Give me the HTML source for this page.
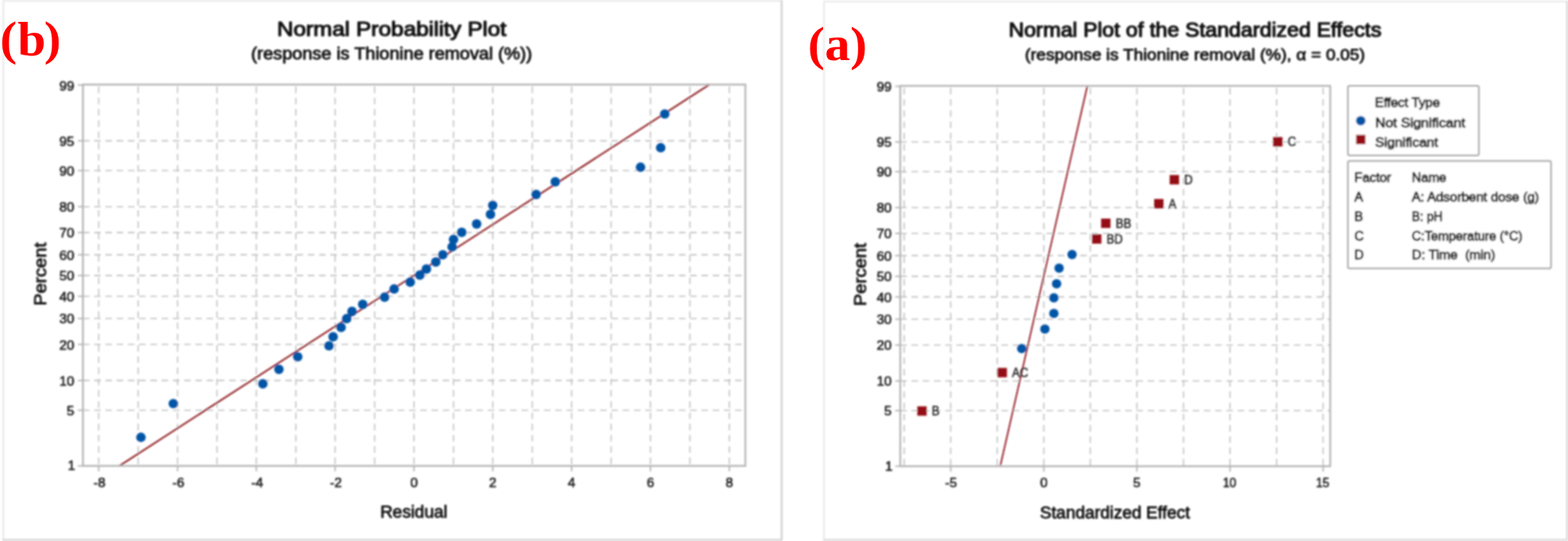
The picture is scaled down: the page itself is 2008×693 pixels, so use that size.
<!DOCTYPE html>
<html lang="en">
<head>
<meta charset="utf-8">
<title>Normal probability plots</title>
<style>
html,body{margin:0;padding:0;background:#fff;}
body{width:2008px;height:693px;overflow:hidden;position:relative;}
svg{display:block;position:absolute;left:0;top:0;}
text{font-family:"Liberation Sans", sans-serif;fill:#0e0e0e;stroke:#0e0e0e;stroke-width:0.85px;stroke-linejoin:round;}
.dl{fill:#2a2a2a;stroke:#2a2a2a;stroke-width:0.6px;}
.st{stroke-width:0.85px;}
.tk{stroke-width:0.6px;fill:#1a1a1a;stroke:#1a1a1a;}
.lg{stroke-width:1.0px;}
.tt{stroke-width:1.15px;fill:#0a0a0a;stroke:#0a0a0a;}
.lbl{font-family:"Liberation Serif",serif;font-weight:bold;fill:#ff0000;stroke:none;}
</style>
</head>
<body>
<svg width="2008" height="693" viewBox="0 0 2008 693">
<defs><filter id="soft" x="0" y="0" width="2008" height="693" filterUnits="userSpaceOnUse"><feGaussianBlur stdDeviation="0.8"/></filter></defs>
<rect x="0" y="0" width="2008" height="693" fill="#ffffff"/>
<g filter="url(#soft)">
<g fill="none" stroke-width="2">
<path d="M4.3 692 V1 H1001" stroke="#e6e6e6"/>
<path d="M1001 0 V691.6 H3.3" stroke="#cfcfcf" stroke-width="2.3"/>
<path d="M1055.2 692 V1.9 H2007" stroke="#e8e8e8"/>
<path d="M2006.9 1 V691.6 H1054.2" stroke="#d6d6d6" stroke-width="2.3"/>
</g>
<g stroke="#c0c0c0" stroke-width="1.6" stroke-dasharray="8.4 6" fill="none">
<line x1="126.4" y1="110.8" x2="126.4" y2="596.8"/>
<line x1="176.9" y1="110.8" x2="176.9" y2="596.8"/>
<line x1="227.4" y1="110.8" x2="227.4" y2="596.8"/>
<line x1="277.8" y1="110.8" x2="277.8" y2="596.8"/>
<line x1="328.3" y1="110.8" x2="328.3" y2="596.8"/>
<line x1="378.8" y1="110.8" x2="378.8" y2="596.8"/>
<line x1="429.2" y1="110.8" x2="429.2" y2="596.8"/>
<line x1="479.7" y1="110.8" x2="479.7" y2="596.8"/>
<line x1="530.2" y1="110.8" x2="530.2" y2="596.8"/>
<line x1="580.7" y1="110.8" x2="580.7" y2="596.8"/>
<line x1="631.1" y1="110.8" x2="631.1" y2="596.8"/>
<line x1="681.6" y1="110.8" x2="681.6" y2="596.8"/>
<line x1="732.1" y1="110.8" x2="732.1" y2="596.8"/>
<line x1="782.6" y1="110.8" x2="782.6" y2="596.8"/>
<line x1="833.0" y1="110.8" x2="833.0" y2="596.8"/>
<line x1="883.5" y1="110.8" x2="883.5" y2="596.8"/>
<line x1="934.0" y1="110.8" x2="934.0" y2="596.8"/>
<line x1="106.2" y1="525.5" x2="954.5" y2="525.5"/>
<line x1="106.2" y1="487.4" x2="954.5" y2="487.4"/>
<line x1="106.2" y1="441.2" x2="954.5" y2="441.2"/>
<line x1="106.2" y1="408.0" x2="954.5" y2="408.0"/>
<line x1="106.2" y1="379.5" x2="954.5" y2="379.5"/>
<line x1="106.2" y1="352.9" x2="954.5" y2="352.9"/>
<line x1="106.2" y1="326.4" x2="954.5" y2="326.4"/>
<line x1="106.2" y1="297.9" x2="954.5" y2="297.9"/>
<line x1="106.2" y1="264.7" x2="954.5" y2="264.7"/>
<line x1="106.2" y1="218.5" x2="954.5" y2="218.5"/>
<line x1="106.2" y1="180.4" x2="954.5" y2="180.4"/>
</g>
<line x1="152.8" y1="596.8" x2="908.4" y2="108.3" stroke="#8a1019" stroke-width="2"/>
<g stroke="#b4b4b4" fill="none">
<rect x="106.2" y="108.3" width="848.3" height="488.5" stroke-width="2.3"/>
<g stroke-width="1.8">
<line x1="99.7" y1="596.8" x2="106.2" y2="596.8"/>
<line x1="99.7" y1="525.5" x2="106.2" y2="525.5"/>
<line x1="99.7" y1="487.4" x2="106.2" y2="487.4"/>
<line x1="99.7" y1="441.2" x2="106.2" y2="441.2"/>
<line x1="99.7" y1="408.0" x2="106.2" y2="408.0"/>
<line x1="99.7" y1="379.5" x2="106.2" y2="379.5"/>
<line x1="99.7" y1="352.9" x2="106.2" y2="352.9"/>
<line x1="99.7" y1="326.4" x2="106.2" y2="326.4"/>
<line x1="99.7" y1="297.9" x2="106.2" y2="297.9"/>
<line x1="99.7" y1="264.7" x2="106.2" y2="264.7"/>
<line x1="99.7" y1="218.5" x2="106.2" y2="218.5"/>
<line x1="99.7" y1="180.4" x2="106.2" y2="180.4"/>
<line x1="99.7" y1="108.9" x2="106.2" y2="108.9"/>
<line x1="126.4" y1="596.8" x2="126.4" y2="603.8"/>
<line x1="227.4" y1="596.8" x2="227.4" y2="603.8"/>
<line x1="328.3" y1="596.8" x2="328.3" y2="603.8"/>
<line x1="429.2" y1="596.8" x2="429.2" y2="603.8"/>
<line x1="530.2" y1="596.8" x2="530.2" y2="603.8"/>
<line x1="631.1" y1="596.8" x2="631.1" y2="603.8"/>
<line x1="732.1" y1="596.8" x2="732.1" y2="603.8"/>
<line x1="833.0" y1="596.8" x2="833.0" y2="603.8"/>
<line x1="934.0" y1="596.8" x2="934.0" y2="603.8"/>
</g></g>
<g fill="#0054a6">
<circle cx="180.5" cy="560.2" r="6.1"/>
<circle cx="221.9" cy="517.0" r="6.1"/>
<circle cx="336.6" cy="491.6" r="6.1"/>
<circle cx="357.2" cy="473.1" r="6.1"/>
<circle cx="381.3" cy="457.0" r="6.1"/>
<circle cx="421.3" cy="443.0" r="6.1"/>
<circle cx="426.6" cy="431.4" r="6.1"/>
<circle cx="436.8" cy="419.4" r="6.1"/>
<circle cx="443.9" cy="408.2" r="6.1"/>
<circle cx="450.8" cy="398.9" r="6.1"/>
<circle cx="464.5" cy="389.9" r="6.1"/>
<circle cx="492.5" cy="380.7" r="6.1"/>
<circle cx="504.7" cy="370.2" r="6.1"/>
<circle cx="525.4" cy="361.4" r="6.1"/>
<circle cx="537.6" cy="352.4" r="6.1"/>
<circle cx="546.1" cy="344.6" r="6.1"/>
<circle cx="558.1" cy="335.6" r="6.1"/>
<circle cx="567.1" cy="326.3" r="6.1"/>
<circle cx="579.0" cy="316.2" r="6.1"/>
<circle cx="580.8" cy="306.7" r="6.1"/>
<circle cx="591.3" cy="297.6" r="6.1"/>
<circle cx="610.4" cy="286.9" r="6.1"/>
<circle cx="628.1" cy="274.6" r="6.1"/>
<circle cx="631.0" cy="263.1" r="6.1"/>
<circle cx="686.6" cy="249.1" r="6.1"/>
<circle cx="711.1" cy="232.9" r="6.1"/>
<circle cx="820.3" cy="214.2" r="6.1"/>
<circle cx="846.1" cy="189.2" r="6.1"/>
<circle cx="851.3" cy="146.0" r="6.1"/>
</g>
<g>
<text transform="translate(96.2 602.0) scale(1.0 1)" font-size="17.2" text-anchor="end" class="tk">1</text>
<text transform="translate(95.0 531.8) scale(1.0 1)" font-size="17.2" text-anchor="end" class="tk">5</text>
<text transform="translate(95.0 493.7) scale(1.0 1)" font-size="17.2" text-anchor="end" class="tk">10</text>
<text transform="translate(95.0 447.5) scale(1.0 1)" font-size="17.2" text-anchor="end" class="tk">20</text>
<text transform="translate(95.0 414.3) scale(1.0 1)" font-size="17.2" text-anchor="end" class="tk">30</text>
<text transform="translate(95.0 385.8) scale(1.0 1)" font-size="17.2" text-anchor="end" class="tk">40</text>
<text transform="translate(95.0 359.2) scale(1.0 1)" font-size="17.2" text-anchor="end" class="tk">50</text>
<text transform="translate(95.0 332.7) scale(1.0 1)" font-size="17.2" text-anchor="end" class="tk">60</text>
<text transform="translate(95.0 304.2) scale(1.0 1)" font-size="17.2" text-anchor="end" class="tk">70</text>
<text transform="translate(95.0 271.0) scale(1.0 1)" font-size="17.2" text-anchor="end" class="tk">80</text>
<text transform="translate(95.0 224.8) scale(1.0 1)" font-size="17.2" text-anchor="end" class="tk">90</text>
<text transform="translate(95.0 186.7) scale(1.0 1)" font-size="17.2" text-anchor="end" class="tk">95</text>
<text transform="translate(95.0 116.2) scale(1.0 1)" font-size="17.2" text-anchor="end" class="tk">99</text>
<text transform="translate(127.4 623.6) scale(1.0 1)" font-size="17.2" text-anchor="middle" class="tk">-8</text>
<text transform="translate(228.4 623.6) scale(1.0 1)" font-size="17.2" text-anchor="middle" class="tk">-6</text>
<text transform="translate(329.3 623.6) scale(1.0 1)" font-size="17.2" text-anchor="middle" class="tk">-4</text>
<text transform="translate(430.2 623.6) scale(1.0 1)" font-size="17.2" text-anchor="middle" class="tk">-2</text>
<text transform="translate(530.2 623.6) scale(1.0 1)" font-size="17.2" text-anchor="middle" class="tk">0</text>
<text transform="translate(631.1 623.6) scale(1.0 1)" font-size="17.2" text-anchor="middle" class="tk">2</text>
<text transform="translate(732.1 623.6) scale(1.0 1)" font-size="17.2" text-anchor="middle" class="tk">4</text>
<text transform="translate(833.0 623.6) scale(1.0 1)" font-size="17.2" text-anchor="middle" class="tk">6</text>
<text transform="translate(934.0 623.6) scale(1.0 1)" font-size="17.2" text-anchor="middle" class="tk">8</text>
</g>
<text x="501.7" y="46.3" font-size="26" text-anchor="middle" textLength="293.8" lengthAdjust="spacingAndGlyphs" class="tt">Normal Probability Plot</text>
<text x="501.5" y="75.7" font-size="21.2" text-anchor="middle" textLength="360.0" lengthAdjust="spacingAndGlyphs" class="st">(response is Thionine removal (%))</text>
<text x="529.9" y="663.4" font-size="22.2" text-anchor="middle" textLength="86.0" lengthAdjust="spacingAndGlyphs">Residual</text>
<text transform="translate(59.3 351) rotate(-90)" font-size="21.6" text-anchor="middle" textLength="80.8" lengthAdjust="spacingAndGlyphs">Percent</text>
<g stroke="#c0c0c0" stroke-width="1.6" stroke-dasharray="8.4 6" fill="none">
<line x1="1157.8" y1="112.5" x2="1157.8" y2="597.2"/>
<line x1="1217.5" y1="112.5" x2="1217.5" y2="597.2"/>
<line x1="1277.1" y1="112.5" x2="1277.1" y2="597.2"/>
<line x1="1336.7" y1="112.5" x2="1336.7" y2="597.2"/>
<line x1="1396.3" y1="112.5" x2="1396.3" y2="597.2"/>
<line x1="1455.9" y1="112.5" x2="1455.9" y2="597.2"/>
<line x1="1515.6" y1="112.5" x2="1515.6" y2="597.2"/>
<line x1="1575.2" y1="112.5" x2="1575.2" y2="597.2"/>
<line x1="1634.8" y1="112.5" x2="1634.8" y2="597.2"/>
<line x1="1694.4" y1="112.5" x2="1694.4" y2="597.2"/>
<line x1="1152.9" y1="526.0" x2="1703.5" y2="526.0"/>
<line x1="1152.9" y1="488.0" x2="1703.5" y2="488.0"/>
<line x1="1152.9" y1="442.0" x2="1703.5" y2="442.0"/>
<line x1="1152.9" y1="408.8" x2="1703.5" y2="408.8"/>
<line x1="1152.9" y1="380.4" x2="1703.5" y2="380.4"/>
<line x1="1152.9" y1="353.9" x2="1703.5" y2="353.9"/>
<line x1="1152.9" y1="327.4" x2="1703.5" y2="327.4"/>
<line x1="1152.9" y1="299.0" x2="1703.5" y2="299.0"/>
<line x1="1152.9" y1="265.8" x2="1703.5" y2="265.8"/>
<line x1="1152.9" y1="219.8" x2="1703.5" y2="219.8"/>
<line x1="1152.9" y1="181.8" x2="1703.5" y2="181.8"/>
</g>
<line x1="1280.9" y1="597.2" x2="1392.5" y2="110.0" stroke="#8e0c18" stroke-width="1.8"/>
<g stroke="#b4b4b4" fill="none">
<rect x="1152.9" y="110.0" width="550.6" height="487.2" stroke-width="2.3"/>
<g stroke-width="1.8">
<line x1="1146.4" y1="597.2" x2="1152.9" y2="597.2"/>
<line x1="1146.4" y1="526.0" x2="1152.9" y2="526.0"/>
<line x1="1146.4" y1="488.0" x2="1152.9" y2="488.0"/>
<line x1="1146.4" y1="442.0" x2="1152.9" y2="442.0"/>
<line x1="1146.4" y1="408.8" x2="1152.9" y2="408.8"/>
<line x1="1146.4" y1="380.4" x2="1152.9" y2="380.4"/>
<line x1="1146.4" y1="353.9" x2="1152.9" y2="353.9"/>
<line x1="1146.4" y1="327.4" x2="1152.9" y2="327.4"/>
<line x1="1146.4" y1="299.0" x2="1152.9" y2="299.0"/>
<line x1="1146.4" y1="265.8" x2="1152.9" y2="265.8"/>
<line x1="1146.4" y1="219.8" x2="1152.9" y2="219.8"/>
<line x1="1146.4" y1="181.8" x2="1152.9" y2="181.8"/>
<line x1="1146.4" y1="110.5" x2="1152.9" y2="110.5"/>
<line x1="1217.5" y1="597.2" x2="1217.5" y2="604.2"/>
<line x1="1336.7" y1="597.2" x2="1336.7" y2="604.2"/>
<line x1="1455.9" y1="597.2" x2="1455.9" y2="604.2"/>
<line x1="1575.2" y1="597.2" x2="1575.2" y2="604.2"/>
<line x1="1694.4" y1="597.2" x2="1694.4" y2="604.2"/>
</g></g>
<rect x="1174.7" y="520.5" width="12" height="12" fill="#941015"/>
<text transform="translate(1193.3 532.1) scale(0.88 1)" font-size="17" class="dl">B</text>
<rect x="1277.5" y="471.3" width="12" height="12" fill="#941015"/>
<text transform="translate(1296.1 482.9) scale(0.88 1)" font-size="17" class="dl">AC</text>
<circle cx="1308.4" cy="446.6" r="6" fill="#0054a6"/>
<circle cx="1338.1" cy="421.6" r="6" fill="#0054a6"/>
<circle cx="1349.6" cy="401.4" r="6" fill="#0054a6"/>
<circle cx="1349.6" cy="381.5" r="6" fill="#0054a6"/>
<circle cx="1353.1" cy="363.5" r="6" fill="#0054a6"/>
<circle cx="1356.3" cy="343.4" r="6" fill="#0054a6"/>
<circle cx="1372.9" cy="326.0" r="6" fill="#0054a6"/>
<rect x="1398.5" y="300.1" width="12" height="12" fill="#941015"/>
<text transform="translate(1417.1 311.7) scale(0.88 1)" font-size="17" class="dl">BD</text>
<rect x="1410.1" y="280.0" width="12" height="12" fill="#941015"/>
<text transform="translate(1428.7 291.6) scale(0.88 1)" font-size="17" class="dl">BB</text>
<rect x="1478.0" y="254.9" width="12" height="12" fill="#941015"/>
<text transform="translate(1496.6 266.5) scale(0.88 1)" font-size="17" class="dl">A</text>
<rect x="1497.9" y="224.2" width="12" height="12" fill="#941015"/>
<text transform="translate(1516.5 235.8) scale(0.88 1)" font-size="17" class="dl">D</text>
<rect x="1630.4" y="175.6" width="12" height="12" fill="#941015"/>
<text transform="translate(1649.0 187.2) scale(0.88 1)" font-size="17" class="dl">C</text>
<text transform="translate(1143.1 602.6) scale(1.0 1)" font-size="17.2" text-anchor="end" class="tk">1</text>
<text transform="translate(1141.9 532.3) scale(1.0 1)" font-size="17.2" text-anchor="end" class="tk">5</text>
<text transform="translate(1141.9 494.3) scale(1.0 1)" font-size="17.2" text-anchor="end" class="tk">10</text>
<text transform="translate(1141.9 448.3) scale(1.0 1)" font-size="17.2" text-anchor="end" class="tk">20</text>
<text transform="translate(1141.9 415.1) scale(1.0 1)" font-size="17.2" text-anchor="end" class="tk">30</text>
<text transform="translate(1141.9 386.7) scale(1.0 1)" font-size="17.2" text-anchor="end" class="tk">40</text>
<text transform="translate(1141.9 360.2) scale(1.0 1)" font-size="17.2" text-anchor="end" class="tk">50</text>
<text transform="translate(1141.9 333.7) scale(1.0 1)" font-size="17.2" text-anchor="end" class="tk">60</text>
<text transform="translate(1141.9 305.3) scale(1.0 1)" font-size="17.2" text-anchor="end" class="tk">70</text>
<text transform="translate(1141.9 272.1) scale(1.0 1)" font-size="17.2" text-anchor="end" class="tk">80</text>
<text transform="translate(1141.9 226.1) scale(1.0 1)" font-size="17.2" text-anchor="end" class="tk">90</text>
<text transform="translate(1141.9 188.1) scale(1.0 1)" font-size="17.2" text-anchor="end" class="tk">95</text>
<text transform="translate(1141.9 117.4) scale(1.0 1)" font-size="17.2" text-anchor="end" class="tk">99</text>
<text transform="translate(1218.0 623.8) scale(1.0 1)" font-size="17.2" text-anchor="middle" class="tk">-5</text>
<text transform="translate(1336.7 623.8) scale(1.0 1)" font-size="17.2" text-anchor="middle" class="tk">0</text>
<text transform="translate(1455.9 623.8) scale(1.0 1)" font-size="17.2" text-anchor="middle" class="tk">5</text>
<text transform="translate(1574.6 623.8) scale(0.9 1)" font-size="17.2" text-anchor="middle" class="tk">10</text>
<text transform="translate(1693.8 623.8) scale(0.9 1)" font-size="17.2" text-anchor="middle" class="tk">15</text>
<text x="1530.4" y="47.1" font-size="25.5" text-anchor="middle" textLength="477.4" lengthAdjust="spacingAndGlyphs" class="tt">Normal Plot of the Standardized Effects</text>
<text x="1530.3" y="77.2" font-size="20.2" text-anchor="middle" textLength="435.7" lengthAdjust="spacingAndGlyphs" class="st">(response is Thionine removal (%), α = 0.05)</text>
<text x="1427.8" y="663.6" font-size="22.2" text-anchor="middle" textLength="192.0" lengthAdjust="spacingAndGlyphs">Standardized Effect</text>
<text transform="translate(1108.5 351.6) rotate(-90)" font-size="21.6" text-anchor="middle" textLength="80.8" lengthAdjust="spacingAndGlyphs">Percent</text>
<g fill="#ffffff" stroke="#a2a2a2" stroke-width="2">
<rect x="1726.2" y="110" width="167.6" height="89" rx="2"/>
<rect x="1726.2" y="206.2" width="260" height="137.5" rx="2"/>
</g>
<circle cx="1742.6" cy="154.6" r="6.2" fill="#0054a6"/>
<rect x="1736.6" y="172.7" width="12" height="12" fill="#941015"/>
<text x="1760.8" y="137.1" font-size="16.6" textLength="83.2" lengthAdjust="spacingAndGlyphs" class="lg">Effect Type</text>
<text x="1761.3" y="162.8" font-size="16.6" textLength="115.1" lengthAdjust="spacingAndGlyphs" class="lg">Not Significant</text>
<text x="1761.0" y="187.9" font-size="16.6" textLength="80.7" lengthAdjust="spacingAndGlyphs" class="lg">Significant</text>
<text x="1734.5" y="233.4" font-size="16.6" textLength="47.1" lengthAdjust="spacingAndGlyphs" class="lg">Factor</text>
<text class="lg" x="1808.1" y="233.4" font-size="16.6" textLength="44.1" lengthAdjust="spacingAndGlyphs" xml:space="preserve">Name</text>
<text x="1734.5" y="258.2" font-size="16.6" class="lg">A</text>
<text class="lg" x="1808.1" y="258.2" font-size="16.6" textLength="162.9" lengthAdjust="spacingAndGlyphs" xml:space="preserve">A: Adsorbent dose (g)</text>
<text x="1734.5" y="283.2" font-size="16.6" class="lg">B</text>
<text class="lg" x="1808.1" y="283.2" font-size="16.6" textLength="39.1" lengthAdjust="spacingAndGlyphs" xml:space="preserve">B: pH</text>
<text x="1734.5" y="307.7" font-size="16.6" class="lg">C</text>
<text class="lg" x="1808.1" y="307.7" font-size="16.6" textLength="141.6" lengthAdjust="spacingAndGlyphs" xml:space="preserve">C:Temperature (°C)</text>
<text x="1734.5" y="332.3" font-size="16.6" class="lg">D</text>
<text class="lg" x="1808.1" y="332.3" font-size="16.6" textLength="106.8" lengthAdjust="spacingAndGlyphs" xml:space="preserve">D: Time  (min)</text>
</g>
<text class="lbl" transform="translate(0.1 70.7) scale(1.05 1)" font-size="61.8" dx="0 0.72 -2.06" dy="-1 1 -1">(b)</text>
<text class="lbl" transform="translate(1034.6 77.2) scale(1.05 1)" font-size="61.8">(a)</text>
</svg>
</body>
</html>
